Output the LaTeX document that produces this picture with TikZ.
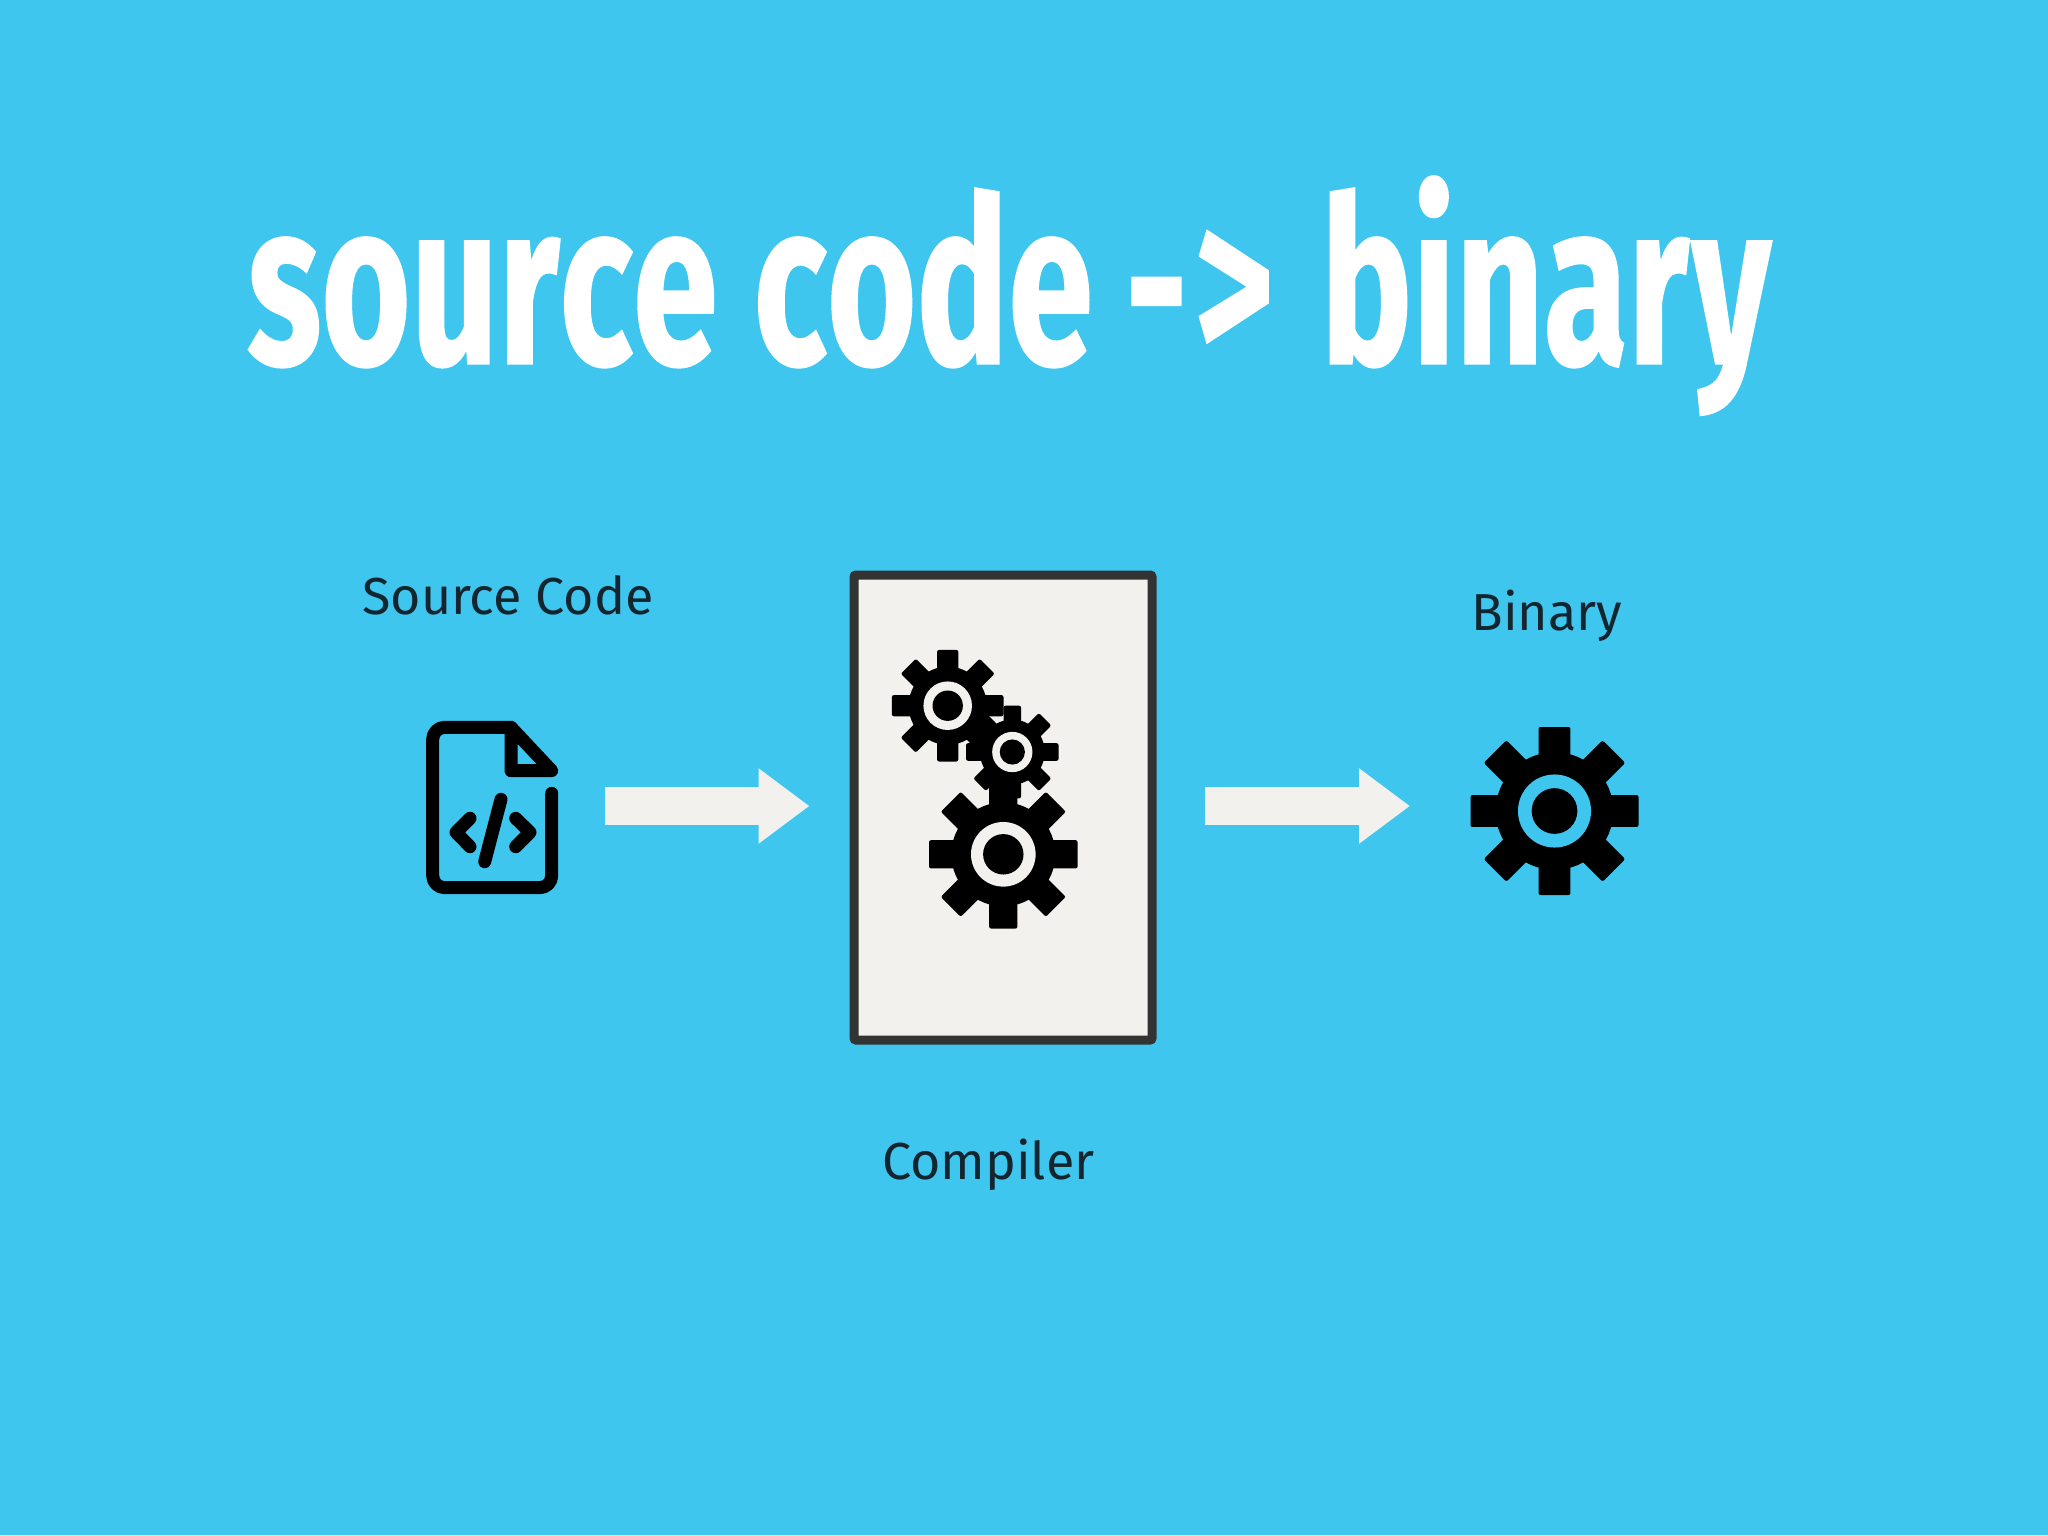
\documentclass[tikz,border=0pt]{standalone}
\usepackage{fontspec}
\usetikzlibrary{arrows.meta,calc}
\newfontfamily\titlefont[FakeStretch=0.66,FakeBold=0.6,Kerning=Off]{Fira Sans Bold}
\newfontfamily\labelfont{Fira Sans}
\definecolor{skybg}{HTML}{3FC6EF}
\definecolor{paper}{HTML}{F2F1ED}
\definecolor{boxline}{HTML}{333333}
\definecolor{labelink}{HTML}{13252E}
\newcommand{\mygear}[4]{%
  \begin{scope}[shift={(#1,#2)},scale=#3]
    \foreach \a in {0,45,...,315}
      \fill[black,rotate=\a,rounded corners=1pt] (-.19,0) rectangle (.19,1);
    \fill[black] (0,0) circle (.70);
    \fill[#4] (0,0) circle (.435);
    \fill[black] (0,0) circle (.272);
  \end{scope}}
\tikzset{
  lbl/.style={anchor=base west,inner sep=0pt,text=labelink,font=\labelfont\fontsize{26}{27}\selectfont},
  blockarrow/.style={draw=paper,line width=19pt,-{Triangle[length=25.5pt,width=36pt,fill=paper]}},
  iconline/.style={draw=black,line width=6.5pt,line cap=round,line join=round},
  anchorbox/.style={inner sep=0pt,outer sep=0pt,minimum width=#1,minimum height=#1}
}
\begin{document}
\begin{tikzpicture}[x=0.5pt,y=-0.5pt]
\useasboundingbox (0,0) rectangle (2048,1535);
\fill[skybg] (0,0) rectangle (2048,1535);
\node[anchor=base west,inner sep=0pt,text=white,font=\titlefont\fontsize{116}{117}\selectfont] (title) at (247,364) {source code \kern-2pt-\kern3.3pt>\kern5.5pt{} binar\kern1.3pt y};
\node[lbl] (srclabel) at (362,614) {Source Code};
\node[lbl] (binlabel) at (1471,630) {Binary};
\node[lbl] (complabel) at (882,1179) {Compiler};
\node[draw=boxline,fill=paper,line width=4.5pt,rounded corners=1pt,minimum width=149pt,minimum height=232.5pt,inner sep=0pt] (compiler) at (1003,807.5) {};
\node[anchorbox=63pt] (source) at (495,806) {};
\node[anchorbox=83pt] (binary) at (1555,811) {};
% source file icon
\draw[iconline,rounded corners=6pt] (551.7,793.3) -- (551.7,887.7) -- (432.7,887.7) -- (432.7,727.3) -- (511,727.3);
\draw[iconline] (511,727.3) -- (551.7,770.7) -- (511,770.7) -- cycle;
\draw[iconline] (470,818.3) -- (456,832.3) -- (470,846.7);
\draw[iconline] (515.7,818.3) -- (530,832.3) -- (515.7,846.7);
\draw[iconline] (501,799.3) -- (484.7,861.7);
% gears
\mygear{947.7}{705.7}{55.8}{paper}
\mygear{1012.3}{752}{46.3}{paper}
\mygear{1003.3}{854.3}{74.3}{paper}
\mygear{1554.5}{811}{84}{skybg}
% arrows
\draw[blockarrow,shorten <=23.5pt,shorten >=20pt] (source.east) -- (compiler.west |- source.east);
\draw[blockarrow,shorten <=24.4pt,shorten >=31pt] (compiler.east |- source.east) -- (binary.west |- source.east);
\end{tikzpicture}
\end{document}
